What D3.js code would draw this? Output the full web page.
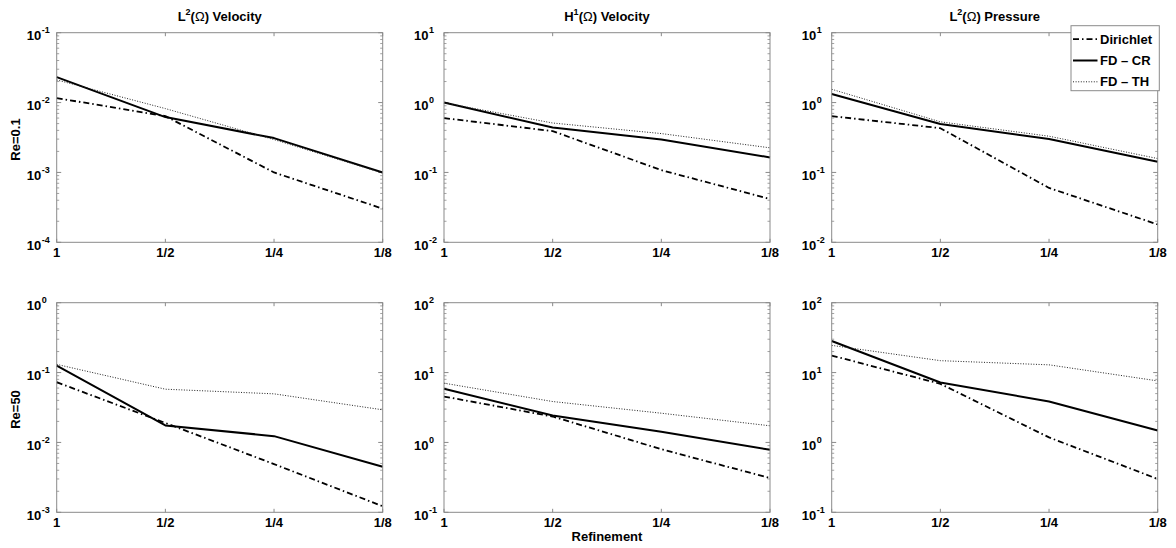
<!DOCTYPE html>
<html><head><meta charset="utf-8">
<script src="https://cdn.jsdelivr.net/npm/d3@7"></script>
<style>
body{margin:0;background:#fff}
text{font-family:"Liberation Sans",Arial,Helvetica,sans-serif;font-weight:bold;fill:#000}
</style>
</head><body>
<svg id="chart" width="1176" height="548"></svg>
<script>
// ---------- data ----------
const refinement = [1, 0.5, 0.25, 0.125];
const refinementLabels = ["1", "1/2", "1/4", "1/8"];
const seriesNames = ["Dirichlet", "FD \u2013 CR", "FD \u2013 TH"];
const columnTitles = [["L", "2", "(Ω) Velocity"], ["H", "1", "(Ω) Velocity"], ["L", "2", "(Ω) Pressure"]];
const rowLabels = ["Re=0.1", "Re=50"];
const xAxisLabel = "Refinement";
// y-axis decade ranges (exponents) per panel
const yExpRe01 = [[-4, -1], [-2, 1], [-2, 1]];
const yExpRe50 = [[-3, 0], [-1, 2], [-1, 2]];

// Re = 0.1
const dirichlet_Re01_L2Vel = [0.0116, 0.0064, 0.00100, 0.000303];
const fdcr_Re01_L2Vel      = [0.0231, 0.0062, 0.00310, 0.00100];
const fdth_Re01_L2Vel      = [0.0211, 0.0082, 0.00295, 0.00098];

const dirichlet_Re01_H1Vel = [0.60, 0.39, 0.108, 0.0416];
const fdcr_Re01_H1Vel      = [1.00, 0.44, 0.296, 0.164];
const fdth_Re01_H1Vel      = [0.99, 0.51, 0.36, 0.225];

const dirichlet_Re01_L2Pr  = [0.64, 0.43, 0.060, 0.018];
const fdcr_Re01_L2Pr       = [1.33, 0.494, 0.30, 0.142];
const fdth_Re01_L2Pr       = [1.55, 0.53, 0.33, 0.158];

// Re = 50
const dirichlet_Re50_L2Vel = [0.0728, 0.0190, 0.0049, 0.00122];
const fdcr_Re50_L2Vel      = [0.126, 0.0175, 0.0123, 0.00449];
const fdth_Re50_L2Vel      = [0.131, 0.0578, 0.0496, 0.0293];

const dirichlet_Re50_H1Vel = [4.54, 2.35, 0.80, 0.309];
const fdcr_Re50_H1Vel      = [5.85, 2.43, 1.42, 0.785];
const fdth_Re50_H1Vel      = [7.05, 3.85, 2.62, 1.73];

const dirichlet_Re50_L2Pr  = [17.5, 6.9, 1.18, 0.30];
const fdcr_Re50_L2Pr       = [28.3, 7.2, 3.85, 1.48];
const fdth_Re50_L2Pr       = [24.5, 14.8, 12.9, 7.6];

const panelSeries = [
  [[dirichlet_Re01_L2Vel, fdcr_Re01_L2Vel, fdth_Re01_L2Vel],
   [dirichlet_Re01_H1Vel, fdcr_Re01_H1Vel, fdth_Re01_H1Vel],
   [dirichlet_Re01_L2Pr,  fdcr_Re01_L2Pr,  fdth_Re01_L2Pr]],
  [[dirichlet_Re50_L2Vel, fdcr_Re50_L2Vel, fdth_Re50_L2Vel],
   [dirichlet_Re50_H1Vel, fdcr_Re50_H1Vel, fdth_Re50_H1Vel],
   [dirichlet_Re50_L2Pr,  fdcr_Re50_L2Pr,  fdth_Re50_L2Pr]]
];
const yExps = [yExpRe01, yExpRe50];

// ---------- layout / style ----------
const lefts = [56.7, 444, 831.7];
const tops = [32.7, 302.7];
const pw = 326, ph = 209.6;
const axisColor = "#8a8a8a";
const styles = [
  {dash: "6,3,1.5,3", width: 1.8, color: "#000"},
  {dash: null, width: 2, color: "#000"},
  {dash: "1,1.6", width: 1, color: "#222"}
];

const svg = d3.select("#chart");

for (let r = 0; r < 2; r++) {
  for (let c = 0; c < 3; c++) {
    const L = lefts[c], T = tops[r];
    const [e0, e1] = yExps[r][c];
    const x = d3.scaleLog().base(2).domain([1, 0.125]).range([L, L + pw]);
    const y = d3.scaleLog().domain([Math.pow(10, e0), Math.pow(10, e1)]).range([T + ph, T]);
    const g = svg.append("g");

    // white background
    g.append("rect").attr("x", L).attr("y", T).attr("width", pw).attr("height", ph).attr("fill", "#fff");

    // y ticks (major + minor) left and right, inside
    for (let e = e0; e <= e1; e++) {
      const yy = y(Math.pow(10, e));
      [[L, 1], [L + pw, -1]].forEach(([bx, dir]) => {
        g.append("line").attr("x1", bx).attr("x2", bx + dir * 4.5).attr("y1", yy).attr("y2", yy)
          .attr("stroke", axisColor).attr("stroke-width", 1);
      });
      // label: "10" right-aligned, exponent hanging
      const lx = L - 15.5;
      g.append("text").attr("x", lx).attr("y", yy + 7.5).attr("text-anchor", "end")
        .attr("font-size", 13).text("10");
      g.append("text").attr("x", lx + 0.5).attr("y", yy + 0.5).attr("text-anchor", "start")
        .attr("font-size", 9).text(e < 0 ? "-" + (-e) : String(e));
      if (e < e1) {
        for (let m = 2; m <= 9; m++) {
          const ym = y(m * Math.pow(10, e));
          [[L, 1], [L + pw, -1]].forEach(([bx, dir]) => {
            g.append("line").attr("x1", bx).attr("x2", bx + dir * 2.5).attr("y1", ym).attr("y2", ym)
              .attr("stroke", axisColor).attr("stroke-width", 0.8);
          });
        }
      }
    }

    // x ticks top & bottom, inside
    refinement.forEach((v, i) => {
      const xx = x(v);
      g.append("line").attr("x1", xx).attr("x2", xx).attr("y1", T + ph).attr("y2", T + ph - 3.5)
        .attr("stroke", axisColor);
      g.append("line").attr("x1", xx).attr("x2", xx).attr("y1", T).attr("y2", T + 3.5)
        .attr("stroke", axisColor);
      g.append("text").attr("x", xx).attr("y", T + ph + 15).attr("text-anchor", "middle")
        .attr("font-size", 13).text(refinementLabels[i]);
    });

    // series lines
    const line = d3.line().x((d, i) => x(refinement[i])).y(d => y(d));
    panelSeries[r][c].forEach((vals, s) => {
      const st = styles[s];
      g.append("path").datum(vals).attr("d", line).attr("fill", "none")
        .attr("stroke", st.color).attr("stroke-width", st.width)
        .attr("stroke-dasharray", st.dash).attr("stroke-linejoin", "round");
    });

    // box
    g.append("rect").attr("x", L).attr("y", T).attr("width", pw).attr("height", ph)
      .attr("fill", "none").attr("stroke", axisColor).attr("stroke-width", 1);

    // column titles
    if (r === 0) {
      const t = g.append("text").attr("x", L + pw / 2).attr("y", 21).attr("text-anchor", "middle")
        .attr("font-size", 13);
      t.append("tspan").text(columnTitles[c][0]);
      t.append("tspan").attr("dy", -6).attr("font-size", 9).text(columnTitles[c][1]);
      t.append("tspan").attr("dy", 6).text("(");
      t.append("tspan").attr("font-weight", "normal").text("Ω");
      t.append("tspan").text(columnTitles[c][2].replace("(Ω", ""));
    }
    // row labels
    if (c === 0) {
      g.append("text").attr("transform", `translate(20,${T + ph / 2 + 2}) rotate(-90)`)
        .attr("text-anchor", "middle").attr("font-size", 13).text(rowLabels[r]);
    }
    // x axis label
    if (r === 1 && c === 1) {
      g.append("text").attr("x", L + pw / 2).attr("y", T + ph + 29).attr("text-anchor", "middle")
        .attr("font-size", 13).text(xAxisLabel);
    }
    // legend
    if (r === 0 && c === 2) {
      const lx0 = L + pw - 86.7, ly0 = 25.7, lw = 88.3, lh = 65;
      const lg = g.append("g");
      lg.append("rect").attr("x", lx0).attr("y", ly0).attr("width", lw).attr("height", lh)
        .attr("fill", "#fff").attr("stroke", axisColor).attr("stroke-width", 1);
      seriesNames.forEach((name, s) => {
        const yy = ly0 + 13.5 + s * 21.3;
        const st = styles[s];
        lg.append("line").attr("x1", lx0 + 2).attr("x2", lx0 + 26.5).attr("y1", yy).attr("y2", yy)
          .attr("stroke", st.color).attr("stroke-width", st.width).attr("stroke-dasharray", st.dash);
        lg.append("text").attr("x", lx0 + 29).attr("y", yy + 4.6).attr("font-size", 13).text(name);
      });
    }
  }
}
</script>
</body></html>
